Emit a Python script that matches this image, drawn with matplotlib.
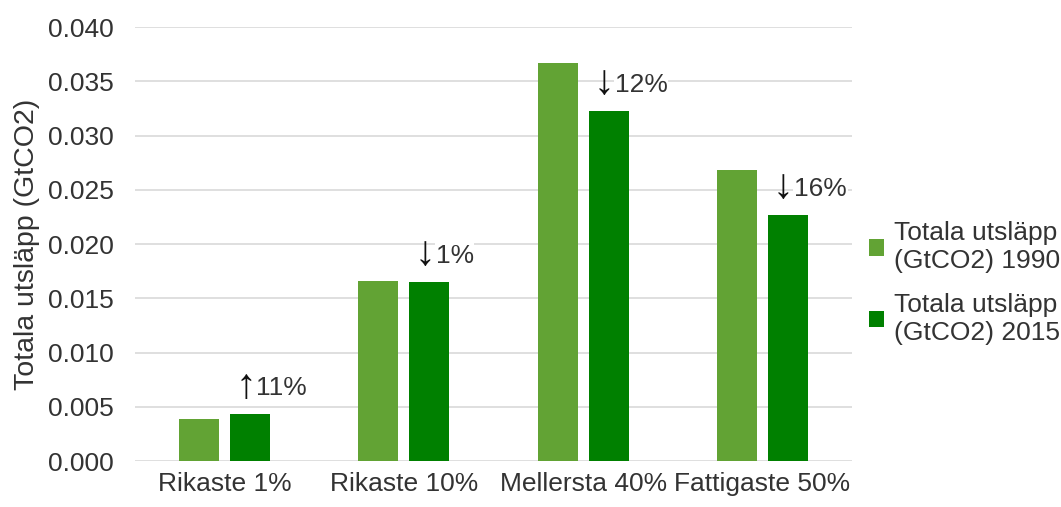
import matplotlib
matplotlib.use('Agg')
import matplotlib.pyplot as plt
import numpy as np

plt.rcParams['font.family'] = ['Liberation Sans', 'DejaVu Sans']

categories = ['Rikaste 1%', 'Rikaste 10%', 'Mellersta 40%', 'Fattigaste 50%']
emissions_1990 = [0.0039, 0.0166, 0.0367, 0.0268]
emissions_2015 = [0.0043, 0.0165, 0.0323, 0.0227]
change_arrows = ['\u2191', '\u2193', '\u2193', '\u2193']
change_labels = ['11%', '1%', '12%', '16%']
series_labels = ['Totala utsläpp\n(GtCO2) 1990', 'Totala utsläpp\n(GtCO2) 2015']
yticks = [0.000, 0.005, 0.010, 0.015, 0.020, 0.025, 0.030, 0.035, 0.040]

text_color = '#333333'
colors = ['#62a334', '#008000']

fig = plt.figure(figsize=(10.61, 5.07), dpi=100)
ax = fig.add_axes([0.1272, 0.0907, 0.6758, 0.856])

x = np.arange(len(categories))
w = 0.223
off = 0.142
ax.bar(x - off, emissions_1990, width=w, color=colors[0], label=series_labels[0], zorder=3)
ax.bar(x + off, emissions_2015, width=w, color=colors[1], label=series_labels[1], zorder=3)

# change annotations above the 2015 bars: tall arrow glyph + percent text
for i in range(len(categories)):
    top = emissions_2015[i]
    ax.text(x[i] + off - 0.025, top + 0.0007, change_arrows[i], ha='center', va='bottom',
            fontsize=30, color='#111111', zorder=4)
    ax.text(x[i] + off + 0.035, top + 0.0024, change_labels[i], ha='left', va='center',
            fontsize=19, color=text_color, zorder=4,
            bbox=dict(facecolor='white', edgecolor='none', pad=0.5))

ax.set_xlim(-0.5, 3.5)
ax.set_ylim(0, 0.040)
ax.set_yticks(yticks)
ax.set_yticklabels([f'{v:.3f}' for v in yticks])
ax.set_xticks(x)
ax.set_xticklabels(categories)
ax.tick_params(axis='y', length=0, labelsize=19, colors=text_color, pad=15)
ax.tick_params(axis='x', length=0, labelsize=19, colors=text_color, pad=8)
ax.grid(axis='y', color='#d9d9d9', linewidth=1.2, zorder=0)
for s in ax.spines.values():
    s.set_visible(False)

ax.set_ylabel('Totala utsläpp (GtCO2)', fontsize=20.5, color=text_color, labelpad=6)

leg = ax.legend(loc='center left', bbox_to_anchor=(0.99, 0.41), frameon=False,
                fontsize=19, handlelength=0.6, handleheight=0.6, handletextpad=0.35,
                labelspacing=0.75)
for t in leg.get_texts():
    t.set_color(text_color)

fig.savefig('out.png', dpi=100)
